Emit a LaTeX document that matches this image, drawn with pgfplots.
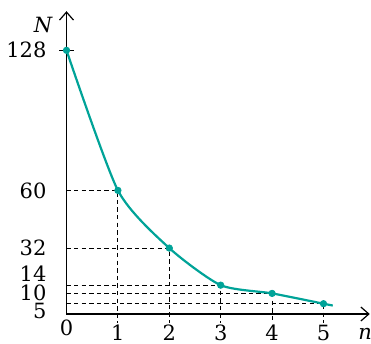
\documentclass[border=0pt]{standalone}
\usepackage{fontspec}
\setmainfont{DejaVu Serif}
\usepackage{pgfplots}
\pgfplotsset{compat=1.18}
\usetikzlibrary{calc,arrows.meta}
\definecolor{tealc}{RGB}{0,163,152}
\begin{document}
\begin{tikzpicture}[font=\fontsize{10.5}{12}\selectfont]
\begin{axis}[
  x=25.7pt, y=1.03pt,
  axis lines=middle,
  axis line style={line width=0.6pt, -{Straight Barb[length=4pt,width=7pt]}},
  xmin=0, xmax=5.9, ymin=0, ymax=147,
  xtick=\empty, ytick=\empty,
  clip=false,
]
\coordinate (O) at (axis cs:0,0);
% guide lines
\addplot[black, line width=0.45pt, dash pattern=on 2.2pt off 1.6pt] coordinates {(0,60)(1,60)(1,-4.5)};
\addplot[black, line width=0.45pt, dash pattern=on 2.2pt off 1.6pt] coordinates {(0,32)(2,32)(2,-4.5)};
\addplot[black, line width=0.45pt, dash pattern=on 2.2pt off 1.6pt] coordinates {(0,14)(3,14)(3,-4.5)};
\addplot[black, line width=0.45pt, dash pattern=on 2.2pt off 1.6pt] coordinates {(0,10)(4,10)(4,-4.5)};
\addplot[black, line width=0.45pt, dash pattern=on 2.2pt off 1.6pt] coordinates {(0,5)(5,5)(5,-4.5)};
% tick at 128
\addplot[black, line width=0.6pt] coordinates {(-0.14,128)(0.14,128)};
% curve
\addplot[tealc, line width=1.1pt, smooth, tension=0.4] coordinates {(0,128)(1,60)(2,32)(3,14)(4,10)(5,5)(5.18,4.1)};
\addplot[tealc, only marks, mark=*, mark size=1.6pt] coordinates {(0,128)(1,60)(2,32)(3,14)(4,10)(5,5)};
% labels
\node[anchor=east, xshift=-6.5pt] at (axis cs:0,128) {128};
\node[anchor=east, xshift=-6.5pt] at (axis cs:0,60) {60};
\node[anchor=east, xshift=-6.5pt] at (axis cs:0,32) {32};
\node[anchor=east, xshift=-6.5pt, yshift=5.5pt] at (axis cs:0,14) {14};
\node[anchor=east, xshift=-6.5pt, yshift=0.5pt] at (axis cs:0,10) {10};
\node[anchor=east, xshift=-6.5pt, yshift=-3.5pt] at (axis cs:0,5) {5};
\node[yshift=-7pt] at (axis cs:0,0) {0};
\node[yshift=-9.5pt] at (axis cs:1,0) {1};
\node[yshift=-9.5pt] at (axis cs:2,0) {2};
\node[yshift=-9.5pt] at (axis cs:3,0) {3};
\node[yshift=-9.5pt] at (axis cs:4,0) {4};
\node[yshift=-9.5pt] at (axis cs:5,0) {5};
\node at (axis cs:-0.457,140.3) {\itshape N};
\node[yshift=-10pt] at (axis cs:5.81,0) {\itshape n};
\end{axis}
\pgfresetboundingbox
\path[use as bounding box] ($(O)+(-33.25pt,-15pt)$) rectangle ($(O)+(152.25pt,157pt)$);
\end{tikzpicture}
\end{document}
